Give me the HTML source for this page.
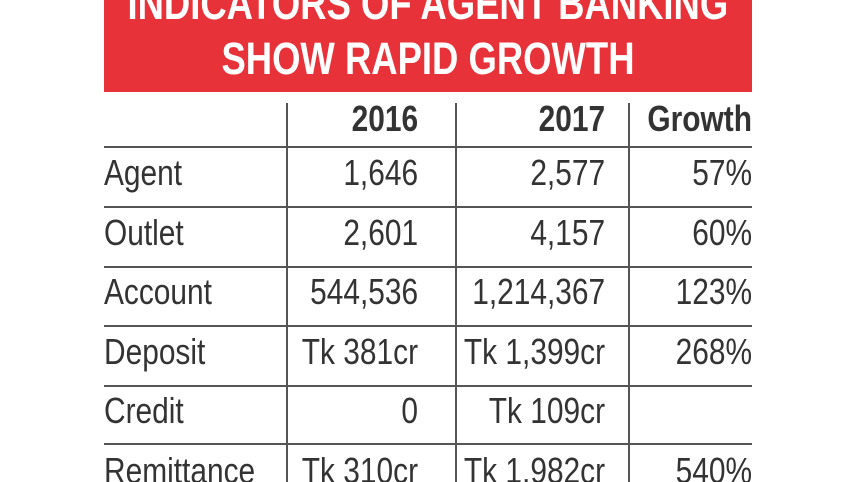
<!DOCTYPE html>
<html><head><meta charset="utf-8"><style>
html,body{margin:0;padding:0;background:#fff;width:857px;height:482px;overflow:hidden;position:relative;font-family:"Liberation Sans Narrow","Liberation Sans",sans-serif;}
.banner{position:absolute;left:104px;top:0;width:648px;height:92px;background:#e8323a;overflow:hidden}
.t{position:absolute;left:-200px;width:1048px;text-align:center;color:#fff;font-weight:bold;font-size:45px;line-height:45px;white-space:nowrap}
.t span{display:inline-block;transform:scaleX(0.81);transform-origin:center}
.h{position:absolute;left:104px;width:648px;height:2px;background:#555}
.v{position:absolute;width:2px;background:#555;top:103px;height:379px}
.c{position:absolute;font-size:36px;line-height:40px;color:#333;white-space:nowrap}
.c span{display:inline-block;transform:scaleX(0.83);transform-origin:left}
.r{text-align:right}
.r span{transform-origin:right}
.b{font-weight:bold}
</style></head><body>
<div class="banner">
<div class="t" style="top:-19px"><span>INDICATORS OF AGENT BANKING</span></div>
<div class="t" style="top:36px"><span>SHOW RAPID GROWTH</span></div>
</div>
<div id="grid"></div>
<script>
const rows=["Agent","Outlet","Account","Deposit","Credit","Remittance"];
const v2016=["1,646","2,601","544,536","Tk 381cr","0","Tk 310cr"];
const v2017=["2,577","4,157","1,214,367","Tk 1,399cr","Tk 109cr","Tk 1,982cr"];
const growth=["57%","60%","123%","268%","","540%"];
const g=document.getElementById('grid');
const lineY=[146,206,266,325,385,443];
const rowH=59.5;
function add(cls,style,text,name){const d=document.createElement('div');d.className=cls;d.setAttribute('style',style);
if(text!==undefined){const s=document.createElement('span');s.textContent=text;d.appendChild(s);}


g.appendChild(d);}
[286,455,628].forEach((x,i)=>add('v','left:'+x+'px',undefined,'column-divider-'+i));
lineY.forEach((y,i)=>add('h','top:'+y+'px',undefined,'row-divider-'+i));
add('c r b','top:99px;right:439px','2016','header-2016');
add('c r b','top:99px;right:252px','2017','header-2017');
add('c r b','top:99px;right:105px','Growth','header-growth');
rows.forEach((r,i)=>{const top=(153+i*rowH)+'px;';
add('c','top:'+top+'left:104px',r,'row-label-'+r.toLowerCase());
add('c r','top:'+top+'right:439px',v2016[i],'value-2016-'+r.toLowerCase());
add('c r','top:'+top+'right:252px',v2017[i],'value-2017-'+r.toLowerCase());
add('c r','top:'+top+'right:105px',growth[i],'growth-'+r.toLowerCase());
});
</script>
</body></html>
